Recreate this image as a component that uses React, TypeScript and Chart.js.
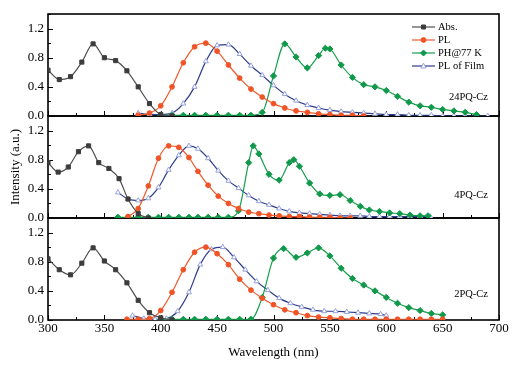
import React, { useEffect, useRef } from 'react';
import { Chart, registerables } from 'chart.js';

Chart.register(...registerables);

const FONT = '"Liberation Serif", "Times New Roman", serif';

// ---- axis ticks / labels ----
const xTicks = [300, 350, 400, 450, 500, 550, 600, 650, 700];
const yTicks = [0, 0.4, 0.8, 1.2];
const seriesNames = ['Abs.', 'PL', 'PH@77 K', 'PL of Film'];
const panelNames = ['24PQ-Cz', '4PQ-Cz', '2PQ-Cz'];

// ---- 24PQ-Cz (top panel) ----
const absX24 = [300, 310, 320, 330, 340, 350, 360, 370, 380, 390, 400, 410];
const absY24 = [0.63, 0.50, 0.54, 0.74, 0.99, 0.80, 0.76, 0.62, 0.40, 0.17, 0.02, 0.0];
const plX24 = [380, 390, 400, 410, 420, 430, 440, 450, 460, 470, 480, 490, 500, 510, 520, 530, 540, 550, 560, 570, 580];
const plY24 = [0.01, 0.04, 0.14, 0.40, 0.73, 0.95, 1.0, 0.89, 0.70, 0.52, 0.37, 0.26, 0.17, 0.11, 0.07, 0.05, 0.03, 0.02, 0.01, 0.01, 0.0];
const phX24 = [400, 410, 420, 430, 440, 450, 460, 470, 480, 490, 500, 510, 520, 530, 540, 546, 550, 560, 570, 580, 590, 600, 610, 620, 630, 640, 650, 660, 670, 680];
const phY24 = [0.01, 0.01, 0.01, 0.01, 0.01, 0.01, 0.01, 0.01, 0.01, 0.05, 0.55, 0.99, 0.81, 0.66, 0.83, 0.93, 0.92, 0.70, 0.53, 0.43, 0.40, 0.35, 0.27, 0.19, 0.14, 0.12, 0.09, 0.07, 0.05, 0.02];
const filmX24 = [380, 390, 400, 410, 420, 430, 440, 450, 460, 470, 480, 490, 500, 510, 520, 530, 540, 550, 560, 570, 580, 590, 600, 610, 620, 630, 640, 650, 660, 670, 680, 690];
const filmY24 = [0.04, 0.02, 0.02, 0.04, 0.17, 0.40, 0.75, 0.97, 0.98, 0.85, 0.69, 0.56, 0.42, 0.30, 0.21, 0.15, 0.11, 0.08, 0.06, 0.05, 0.04, 0.03, 0.02, 0.02, 0.01, 0.01, 0.01, 0.0, 0.0, 0.0, 0.0, 0.0];

// ---- 4PQ-Cz (middle panel) ----
const absX4 = [300, 309, 318, 327, 336, 345, 354, 363, 371, 380, 389];
const absY4 = [0.76, 0.63, 0.70, 0.91, 0.99, 0.76, 0.68, 0.54, 0.26, 0.06, 0.0];
const plX4 = [371, 380, 389, 398, 407, 416, 425, 433, 442, 451, 460, 469, 478, 487, 496, 505, 514, 523, 532, 541, 550, 559, 568];
const plY4 = [0.02, 0.13, 0.44, 0.82, 0.99, 0.97, 0.83, 0.64, 0.45, 0.30, 0.20, 0.13, 0.08, 0.06, 0.04, 0.03, 0.02, 0.02, 0.01, 0.01, 0.01, 0.0, 0.0];
const phX4 = [362, 371, 380, 389, 398, 407, 416, 425, 433, 442, 451, 460, 469, 478, 482, 487, 496, 505, 514, 518, 523, 532, 541, 550, 559, 568, 577, 585, 594, 603, 612, 621, 630, 637];
const phY4 = [0.01, 0.01, 0.01, 0.01, 0.01, 0.01, 0.01, 0.01, 0.01, 0.01, 0.01, 0.01, 0.10, 0.76, 0.99, 0.88, 0.60, 0.52, 0.76, 0.80, 0.71, 0.48, 0.33, 0.31, 0.32, 0.24, 0.16, 0.11, 0.09, 0.07, 0.06, 0.04, 0.03, 0.03];
const filmX4 = [362, 371, 380, 389, 398, 407, 416, 425, 433, 442, 451, 460, 469, 478, 487, 496, 505, 514, 523, 532, 541, 550, 559, 568, 577, 585, 594, 603, 612, 621, 630, 639];
const filmY4 = [0.35, 0.26, 0.24, 0.27, 0.42, 0.66, 0.86, 0.99, 0.95, 0.82, 0.65, 0.51, 0.41, 0.31, 0.23, 0.18, 0.13, 0.09, 0.07, 0.06, 0.05, 0.04, 0.03, 0.03, 0.03, 0.02, 0.02, 0.02, 0.02, 0.02, 0.02, 0.02];

// ---- 2PQ-Cz (bottom panel) ----
const absX2 = [300, 310, 320, 330, 340, 350, 360, 370, 380, 390, 400, 410];
const absY2 = [0.84, 0.69, 0.62, 0.78, 0.99, 0.81, 0.69, 0.51, 0.27, 0.10, 0.03, 0.0];
const plX2 = [370, 380, 390, 400, 410, 420, 430, 440, 450, 460, 470, 480, 490, 500, 510, 520, 530, 540, 550, 560, 570, 580, 590, 600, 610, 620, 630, 640, 650];
const plY2 = [0.01, 0.01, 0.02, 0.13, 0.38, 0.69, 0.93, 1.0, 0.91, 0.76, 0.56, 0.41, 0.30, 0.21, 0.14, 0.10, 0.06, 0.04, 0.03, 0.02, 0.01, 0.01, 0.01, 0.01, 0.01, 0.01, 0.01, 0.01, 0.01];
const phX2 = [400, 410, 420, 430, 440, 450, 460, 470, 480, 490, 500, 509, 520, 530, 540, 550, 560, 570, 580, 590, 600, 610, 620, 630, 640, 650];
const phY2 = [0.01, 0.01, 0.01, 0.01, 0.01, 0.01, 0.01, 0.01, 0.01, 0.31, 0.85, 0.98, 0.86, 0.92, 0.99, 0.88, 0.71, 0.57, 0.48, 0.40, 0.31, 0.23, 0.17, 0.13, 0.09, 0.07];
const filmX2 = [375, 385, 395, 405, 415, 425, 435, 445, 455, 465, 475, 485, 495, 505, 515, 525, 535, 545, 555, 565, 575, 585, 595, 600];
const filmY2 = [0.06, 0.02, 0.01, 0.02, 0.12, 0.38, 0.76, 0.97, 1.0, 0.86, 0.69, 0.53, 0.41, 0.30, 0.23, 0.18, 0.14, 0.12, 0.12, 0.11, 0.10, 0.09, 0.08, 0.06];

const panelAxes = ['yTop', 'yMid', 'yBot'];
const panelSeries = [
  [[absX24, absY24], [plX24, plY24], [phX24, phY24], [filmX24, filmY24]],
  [[absX4, absY4], [plX4, plY4], [phX4, phY4], [filmX4, filmY4]],
  [[absX2, absY2], [plX2, plY2], [phX2, phY2], [filmX2, filmY2]],
];

const STYLES = [
  { line: '#505050', fill: '#3c3c3c', stroke: '#3c3c3c', style: 'rect', r: 2.9 },
  { line: '#f05a2a', fill: '#ef5326', stroke: '#ef5326', style: 'circle', r: 2.4 },
  { line: '#15a04b', fill: '#10994a', stroke: '#10994a', style: 'rectRot', r: 3.1 },
  { line: '#2d3c8c', fill: '#ffffff', stroke: '#95a0dc', style: 'triangle', r: 2.9 },
];

const pts = (xs: number[], ys: number[]) => xs.map((x, i) => ({ x, y: ys[i] }));

function drawMarker(ctx: CanvasRenderingContext2D, kind: number, x: number, y: number) {
  const s = STYLES[kind];
  ctx.save();
  ctx.fillStyle = s.fill;
  ctx.strokeStyle = s.stroke;
  ctx.lineWidth = 1;
  ctx.beginPath();
  if (kind === 0) {
    ctx.rect(x - 2, y - 2, 4, 4);
  } else if (kind === 1) {
    ctx.arc(x, y, 2.4, 0, Math.PI * 2);
  } else if (kind === 2) {
    ctx.moveTo(x, y - 3); ctx.lineTo(x + 3, y); ctx.lineTo(x, y + 3); ctx.lineTo(x - 3, y); ctx.closePath();
  } else {
    ctx.moveTo(x, y - 2.8); ctx.lineTo(x + 2.6, y + 2); ctx.lineTo(x - 2.6, y + 2); ctx.closePath();
  }
  ctx.fill();
  ctx.stroke();
  ctx.restore();
}

const framePlugin = {
  id: 'panelFrame',
  beforeDatasetsDraw(chart: any) {
    const { ctx, chartArea: a, scales } = chart;
    const xs = scales.x;
    ctx.save();
    ctx.strokeStyle = '#000';
    panelAxes.forEach((id) => {
      const s = scales[id];
      ctx.lineWidth = 1;
      ctx.beginPath();
      for (let v = 300; v <= 700; v += 25) {
        const px = Math.round(xs.getPixelForValue(v)) + 0.5;
        const len = v % 50 === 0 ? 5 : 3;
        ctx.moveTo(px, s.bottom);
        ctx.lineTo(px, s.bottom - len);
      }
      for (let i = 0; i <= 7; i++) {
        const py = Math.round(s.getPixelForValue(i * 0.2)) + 0.5;
        const len = i % 2 === 0 ? 5 : 3;
        ctx.moveTo(a.left, py);
        ctx.lineTo(a.left + len, py);
      }
      ctx.stroke();
      ctx.lineWidth = 1.6;
      ctx.strokeRect(a.left, s.top, a.right - a.left, s.bottom - s.top);
    });
    ctx.restore();
  },
  afterDraw(chart: any) {
    const { ctx, chartArea: a, scales } = chart;
    ctx.save();
    // legend
    ctx.font = `10.5px ${FONT}`;
    ctx.textBaseline = 'middle';
    ctx.textAlign = 'left';
    seriesNames.forEach((name, i) => {
      const y = a.top + 13 + i * 13;
      ctx.strokeStyle = STYLES[i].line;
      ctx.lineWidth = 1.2;
      ctx.beginPath();
      ctx.moveTo(412, y);
      ctx.lineTo(435, y);
      ctx.stroke();
      drawMarker(ctx, i, 423.5, y);
      ctx.fillStyle = '#000';
      ctx.fillText(name, 438, y + 0.5);
    });
    // panel labels
    const levels = [0.26, 0.31, 0.36];
    ctx.font = `10.5px ${FONT}`;
    ctx.textAlign = 'right';
    panelAxes.forEach((id, i) => {
      const s = scales[id];
      ctx.fillStyle = '#000';
      ctx.fillText(panelNames[i], a.right - 11, s.getPixelForValue(levels[i]));
    });
    ctx.restore();
  },
};

function yAxis(showTitle: boolean) {
  return {
    type: 'linear',
    position: 'left',
    stack: 'panels',
    stackWeight: 1,
    min: 0,
    max: 1.4,
    afterBuildTicks: (s: any) => { s.ticks = yTicks.map((v) => ({ value: v })); },
    afterFit: (s: any) => { s.width = 48; },
    grid: { display: false, drawTicks: false },
    border: { display: false },
    ticks: {
      padding: 4,
      color: '#000',
      font: { family: FONT, size: 13 },
      callback: (v: any) => Number(v).toFixed(1),
    },
    title: {
      display: showTitle,
      text: 'Intensity (a.u.)',
      color: '#000',
      font: { family: FONT, size: 13 },
      padding: { top: 8, bottom: 0 },
    },
  };
}

export default function App() {
  const ref = useRef<HTMLCanvasElement | null>(null);
  useEffect(() => {
    if (!ref.current) return;
    const datasets: any[] = [];
    panelSeries.forEach((series, p) => {
      series.forEach(([xs, ys], k) => {
        const st = STYLES[k];
        datasets.push({
          label: `${panelNames[p]} ${seriesNames[k]}`,
          data: pts(xs as number[], ys as number[]),
          xAxisID: 'x',
          yAxisID: panelAxes[p],
          borderColor: st.line,
          borderWidth: 1.2,
          pointStyle: st.style,
          pointRadius: st.r,
          pointBackgroundColor: st.fill,
          pointBorderColor: st.stroke,
          pointBorderWidth: 1,
          cubicInterpolationMode: 'monotone',
          fill: false,
        });
      });
    });
    const chart = new Chart(ref.current, {
      type: 'line',
      data: { datasets },
      options: {
        animation: false,
        responsive: false,
        devicePixelRatio: 1,
        layout: { padding: { top: 14, right: 27, bottom: 0, left: 0 } },
        plugins: { legend: { display: false }, tooltip: { enabled: false } },
        scales: {
          x: {
            type: 'linear',
            min: 300,
            max: 700,
            afterBuildTicks: (s: any) => { s.ticks = xTicks.map((v) => ({ value: v })); },
            afterFit: (s: any) => { s.height = 45; },
            grid: { display: false, drawTicks: false },
            border: { display: false },
            ticks: { padding: 1, color: '#000', font: { family: FONT, size: 13 }, maxRotation: 0, autoSkip: false },
            title: {
              display: true,
              text: 'Wavelength (nm)',
              color: '#000',
              font: { family: FONT, size: 13 },
              padding: { top: 0, bottom: 5 },
            },
          },
          yBot: yAxis(false),
          yMid: yAxis(true),
          yTop: yAxis(false),
        } as any,
      },
      plugins: [framePlugin],
    } as any);
    return () => chart.destroy();
  }, []);
  return (
    <div style={{ position: 'absolute', left: 0, top: 0, width: 526, height: 365, background: '#fff' }}>
      <canvas ref={ref} width={526} height={365} style={{ display: 'block' }} />
    </div>
  );
}
